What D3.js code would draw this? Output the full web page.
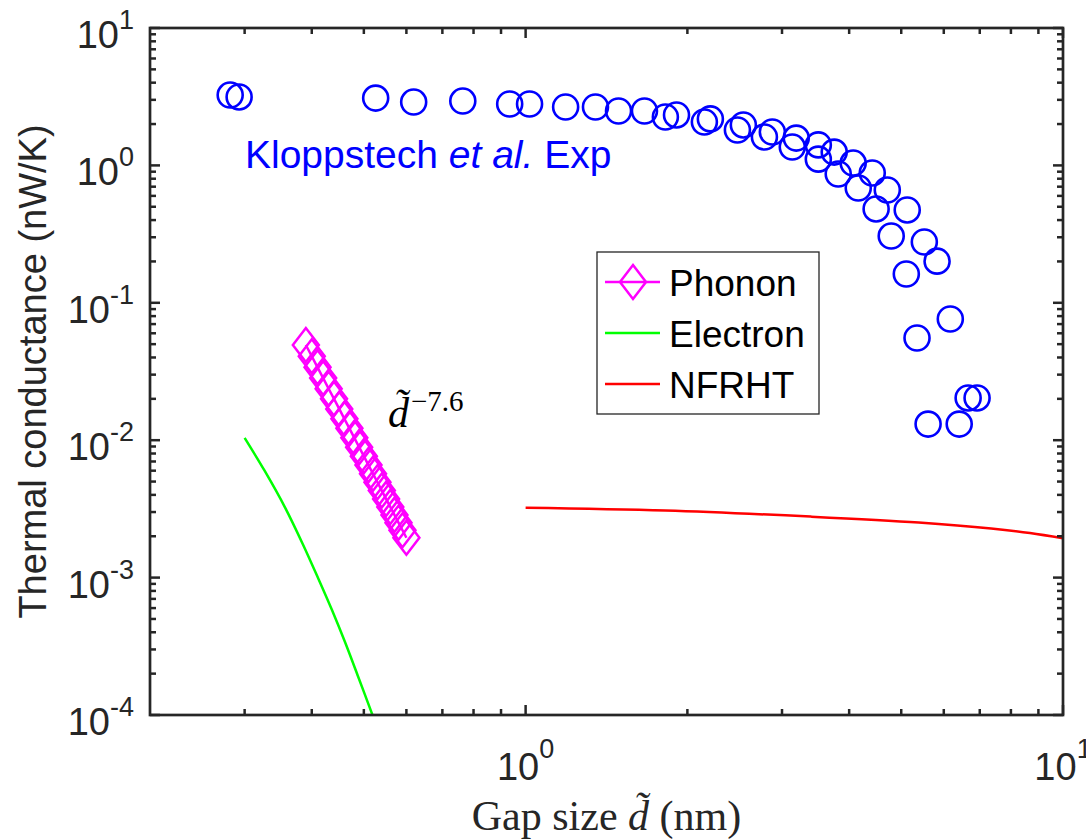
<!DOCTYPE html>
<html>
<head>
<meta charset="utf-8">
<script src="https://cdn.jsdelivr.net/npm/d3@7"></script>
<style>
  body { margin: 0; background: #fff; }
  svg { display: block; }
</style>
</head>
<body>
<svg id="chart" width="1086" height="839"></svg>
<script>
// Kloppstech et al. experiment (circles)
const expGap = [0.282, 0.293, 0.526, 0.619, 0.764, 0.934, 1.017, 1.187, 1.349, 1.489, 1.664,
  1.820, 1.909, 2.151, 2.207, 2.478, 2.542, 2.782, 2.878, 3.135, 3.189, 3.505, 3.505, 3.752,
  3.817, 4.07, 4.159, 4.416, 4.49, 4.71, 4.79, 5.13, 5.11, 5.52, 5.83, 5.35, 6.17, 6.66, 6.92,
  5.61, 6.41];
const expG = [3.25, 3.15, 3.09, 2.89, 2.94, 2.80, 2.80, 2.66, 2.66, 2.49, 2.49,
  2.25, 2.33, 2.07, 2.18, 1.81, 1.97, 1.61, 1.75, 1.36, 1.58, 1.11, 1.41, 1.25,
  0.866, 1.04, 0.685, 0.88, 0.482, 0.662, 0.306, 0.474, 0.162, 0.277, 0.201, 0.0554, 0.0762, 0.0203, 0.0203,
  0.0131, 0.0131];

// phonon
const phononGap = [0.39, 0.40, 0.41, 0.42, 0.43, 0.44, 0.45, 0.46, 0.47, 0.48, 0.49,
  0.50, 0.51, 0.52, 0.53, 0.54, 0.55, 0.56, 0.57, 0.58, 0.59, 0.60];
const phononG = [0.0493, 0.0408, 0.0339, 0.0283, 0.0237, 0.0200, 0.0169, 0.0143, 0.0122, 0.0104, 0.00890,
  0.00765, 0.00659, 0.00570, 0.00494, 0.00430, 0.00374, 0.00327, 0.00286, 0.00251, 0.00221, 0.00195];

// electron
const electronGap = [0.300, 0.327, 0.357, 0.385, 0.412, 0.436, 0.461, 0.487, 0.520];
const electronG = [0.0104, 0.00597, 0.00322, 0.00175, 0.00097, 0.000583, 0.000341, 0.000194, 0.0000977];

// NFRHT
const nfrhtGap = [1.0, 1.82, 3.39, 5.39, 7.35, 8.68, 10];
const nfrhtG = [0.00323, 0.00308, 0.00278, 0.00252, 0.00228, 0.00211, 0.00193];

const xMajor = [0, 1];           // exponents of 10
const yMajor = [-4, -3, -2, -1, 0, 1];
const legendNames = ["Phonon", "Electron", "NFRHT"];

const axisColor = "#262626";
const sans = "'Liberation Sans', Arial, Helvetica, sans-serif";
const serif = "'Liberation Serif', 'Times New Roman', serif";

const svg = d3.select("#chart");
const pLeft = 150, pTop = 28, pRight = 1063, pBottom = 715;

const xScale = d3.scaleLog().domain([0.2, 10]).range([pLeft, pRight]);
const yScale = d3.scaleLog().domain([1e-4, 10]).range([pBottom, pTop]);

// clip for data
svg.append("clipPath").attr("id", "plotClip")
  .append("rect")
  .attr("x", pLeft).attr("y", pTop)
  .attr("width", pRight - pLeft).attr("height", pBottom - pTop);

const plot = svg.append("g").attr("clip-path", "url(#plotClip)");

// Step 1 - curves (smooth in screen space)
const line = d3.line()
  .x(d => xScale(d[0]))
  .y(d => yScale(d[1]))
  .curve(d3.curveCatmullRom.alpha(0.5));

plot.append("path")
  .datum(electronGap.map((g, i) => [g, electronG[i]]))
  .attr("d", line)
  .style("fill", "none")
  .style("stroke", "#00ff00")
  .style("stroke-width", 2.5);

plot.append("path")
  .datum(nfrhtGap.map((g, i) => [g, nfrhtG[i]]))
  .attr("d", line)
  .style("fill", "none")
  .style("stroke", "#ff0000")
  .style("stroke-width", 2.5);

const phononData = phononGap.map((g, i) => [g, phononG[i]]);
plot.append("path")
  .datum(phononData)
  .attr("d", d3.line().x(d => xScale(d[0])).y(d => yScale(d[1])))
  .style("fill", "none")
  .style("stroke", "#ff00ff")
  .style("stroke-width", 2.5);

// diamond marker, a bit taller than wide like matlab
function diamond(cx, cy) {
  const w = 13, h = 17;
  return "M" + cx + "," + (cy - h) + "L" + (cx + w) + "," + cy + "L" + cx + "," + (cy + h) + "L" + (cx - w) + "," + cy + "Z";
}

plot.append("g")
  .selectAll("path")
  .data(phononData)
  .enter()
  .append("path")
  .attr("d", d => diamond(xScale(d[0]), yScale(d[1])))
  .style("fill", "none")
  .style("stroke", "#ff00ff")
  .style("stroke-width", 2.5);

// Step 2 - experiment circles
plot.append("g")
  .selectAll("circle")
  .data(expGap.map((g, i) => [g, expG[i]]))
  .enter()
  .append("circle")
  .attr("cx", d => xScale(d[0]))
  .attr("cy", d => yScale(d[1]))
  .attr("r", 12.5)
  .style("fill", "none")
  .style("stroke", "#0000ff")
  .style("stroke-width", 2.6);

// Step 3 - axes box with inward ticks
const axes = svg.append("g");

function minorTicks(lo, hi) {
  let t = [];
  for (let e = lo; e < hi; e++)
    for (let m = 2; m <= 9; m++) t.push(m * Math.pow(10, e));
  return t;
}
const xMinor = minorTicks(-1, 1).filter(v => v > 0.2 && v < 10);
const yMinor = minorTicks(-4, 1);

xMajor.forEach(e => {
  const x = xScale(Math.pow(10, e));
  axes.append("line").attr("x1", x).attr("x2", x).attr("y1", pBottom).attr("y2", pBottom - 10);
  axes.append("line").attr("x1", x).attr("x2", x).attr("y1", pTop).attr("y2", pTop + 10);
});
xMinor.forEach(v => {
  const x = xScale(v);
  axes.append("line").attr("x1", x).attr("x2", x).attr("y1", pBottom).attr("y2", pBottom - 6);
  axes.append("line").attr("x1", x).attr("x2", x).attr("y1", pTop).attr("y2", pTop + 6);
});
yMajor.forEach(e => {
  const y = yScale(Math.pow(10, e));
  axes.append("line").attr("x1", pLeft).attr("x2", pLeft + 10).attr("y1", y).attr("y2", y);
  axes.append("line").attr("x1", pRight).attr("x2", pRight - 10).attr("y1", y).attr("y2", y);
});
yMinor.forEach(v => {
  const y = yScale(v);
  axes.append("line").attr("x1", pLeft).attr("x2", pLeft + 6).attr("y1", y).attr("y2", y);
  axes.append("line").attr("x1", pRight).attr("x2", pRight - 6).attr("y1", y).attr("y2", y);
});
axes.selectAll("line").style("stroke", axisColor).style("stroke-width", 2.5);

axes.append("rect")
  .attr("x", pLeft).attr("y", pTop)
  .attr("width", pRight - pLeft).attr("height", pBottom - pTop)
  .style("fill", "none")
  .style("stroke", axisColor)
  .style("stroke-width", 2.7);

// tick labels 10^n
xMajor.forEach(e => {
  const t = svg.append("text")
    .attr("x", xScale(Math.pow(10, e)))
    .attr("y", 780)
    .attr("text-anchor", "middle")
    .style("font-family", sans)
    .style("font-size", "38px")
    .style("fill", axisColor);
  t.append("tspan").text("10");
  t.append("tspan").attr("dy", -22).style("font-size", "27px").text(e);
});
yMajor.forEach(e => {
  const y = yScale(Math.pow(10, e));
  const t = svg.append("text")
    .attr("x", 134)
    .attr("y", y + 20)
    .attr("text-anchor", "end")
    .style("font-family", sans)
    .style("font-size", "38px")
    .style("fill", axisColor);
  t.append("tspan").text("10");
  t.append("tspan").attr("dy", -19).style("font-size", "27px").text(e);
});

// axis titles
svg.append("text")
  .attr("transform", "translate(46," + ((pTop + pBottom) / 2) + ") rotate(-90)")
  .attr("text-anchor", "middle")
  .style("font-family", sans)
  .style("font-size", "38px")
  .style("fill", axisColor)
  .text("Thermal conductance (nW/K)");

const xt = svg.append("text")
  .attr("x", (pLeft + pRight) / 2)
  .attr("y", 830)
  .attr("text-anchor", "middle")
  .style("font-family", serif)
  .style("font-size", "42px")
  .style("fill", axisColor);
xt.append("tspan").text("Gap size ");
xt.append("tspan").style("font-style", "italic").text("d\u0303");
xt.append("tspan").text(" (nm)");

// Step 4 - annotations
const kl = svg.append("text")
  .attr("x", 245).attr("y", 168)
  .style("font-family", sans)
  .style("font-size", "39px")
  .style("fill", "#0000ff");
kl.append("tspan").text("Kloppstech ");
kl.append("tspan").style("font-style", "italic").text("et al.");
kl.append("tspan").text(" Exp");

const pw = svg.append("text")
  .attr("x", 388).attr("y", 427)
  .style("font-family", serif)
  .style("font-size", "42px")
  .style("fill", "#000");
pw.append("tspan").style("font-style", "italic").text("d\u0303");
pw.append("tspan").attr("dx", 2).attr("dy", -16).style("font-size", "29px").text("\u22127.6");

// Step 5 - legend
const lg = svg.append("g");
lg.append("rect")
  .attr("x", 597).attr("y", 252)
  .attr("width", 222).attr("height", 162)
  .style("fill", "#fff")
  .style("stroke", axisColor)
  .style("stroke-width", 1.3);

const legendColors = ["#ff00ff", "#00ff00", "#ff0000"];
legendNames.forEach((name, i) => {
  const y = 282 + i * 51;
  lg.append("line")
    .attr("x1", 605).attr("x2", 660).attr("y1", y).attr("y2", y)
    .style("stroke", legendColors[i])
    .style("stroke-width", 2.5);
  if (i == 0)
    lg.append("path")
      .attr("d", diamond(633, y))
      .style("fill", "none")
      .style("stroke", legendColors[i])
      .style("stroke-width", 2.5);
  lg.append("text")
    .attr("x", 669).attr("y", y + 14)
    .style("font-family", sans)
    .style("font-size", "37px")
    .style("fill", "#000")
    .text(name);
});
</script>
</body>
</html>
